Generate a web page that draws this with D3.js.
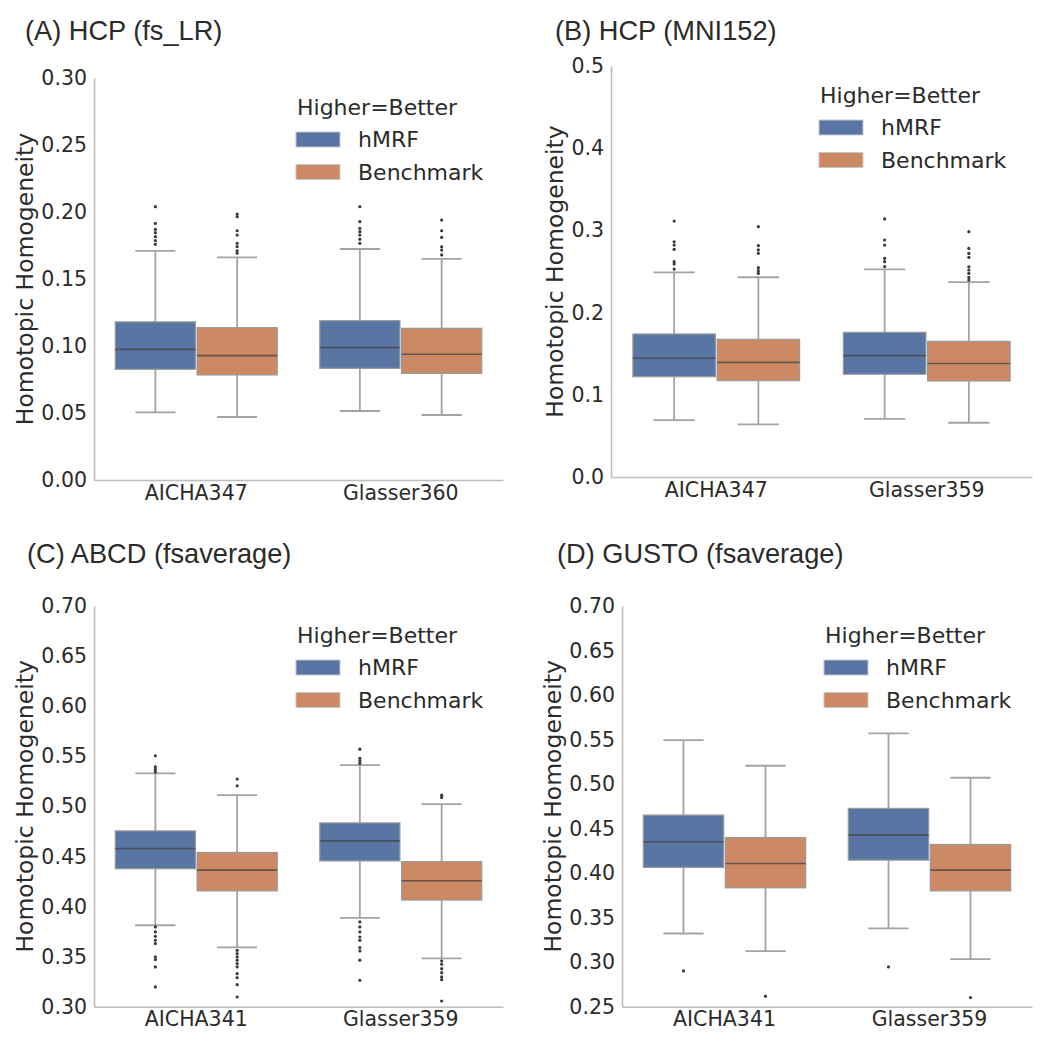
<!DOCTYPE html>
<html><head><meta charset="utf-8">
<script src="https://cdn.jsdelivr.net/npm/d3@7"></script>
<style>body{margin:0;background:#fff} svg{display:block}</style>
</head><body>
<svg id="chart" width="1050" height="1042"></svg>
<script>
// ---------------- DATA ----------------
const panelTitles = ["(A) HCP (fs_LR)", "(B) HCP (MNI152)", "(C) ABCD (fsaverage)", "(D) GUSTO (fsaverage)"];
const seriesNames = ["hMRF", "Benchmark"];
const legendTitle = "Higher=Better";
const yLabel = "Homotopic Homogeneity";

const categoriesA = ["AICHA347", "Glasser360"];
const categoriesB = ["AICHA347", "Glasser359"];
const categoriesC = ["AICHA341", "Glasser359"];
const categoriesD = ["AICHA341", "Glasser359"];

const yDomainA = [0, 0.30];
const yDomainB = [0, 0.5];
const yDomainC = [0.30, 0.70];
const yDomainD = [0.25, 0.70];

const ticksA = [0.00, 0.05, 0.10, 0.15, 0.20, 0.25, 0.30];
const ticksB = [0.0, 0.1, 0.2, 0.3, 0.4, 0.5];
const ticksC = [0.30, 0.35, 0.40, 0.45, 0.50, 0.55, 0.60, 0.65, 0.70];
const ticksD = [0.25, 0.30, 0.35, 0.40, 0.45, 0.50, 0.55, 0.60, 0.65, 0.70];

// box stats per category: [lower whisker, Q1, median, Q3, upper whisker]
const hmrfA  = [[0.0505, 0.0826, 0.0975, 0.1180, 0.1710], [0.0515, 0.0833, 0.0988, 0.1189, 0.1724]];
const benchA = [[0.0470, 0.0784, 0.0928, 0.1137, 0.1662], [0.0485, 0.0796, 0.0938, 0.1132, 0.1650]];
const hmrfB  = [[0.0693, 0.1220, 0.1444, 0.1740, 0.2490], [0.0706, 0.1250, 0.1476, 0.1760, 0.2527]];
const benchB = [[0.0640, 0.1172, 0.1395, 0.1675, 0.2430], [0.0660, 0.1168, 0.1380, 0.1650, 0.2370]];
const hmrfC  = [[0.3813, 0.4377, 0.4579, 0.4755, 0.5329], [0.3886, 0.4455, 0.4655, 0.4835, 0.5412]];
const benchC = [[0.3593, 0.4156, 0.4363, 0.4540, 0.5112], [0.3483, 0.4065, 0.4257, 0.4448, 0.5022]];
const hmrfD  = [[0.3322, 0.4064, 0.4352, 0.4652, 0.5494], [0.3379, 0.4146, 0.4427, 0.4727, 0.5570]];
const benchD = [[0.3124, 0.3835, 0.4109, 0.4400, 0.5206], [0.3034, 0.3801, 0.4034, 0.4322, 0.5071]];

// outliers per category
const hmrfOutA  = [[0.204, 0.1915, 0.187, 0.1846, 0.1816, 0.1786, 0.1759], [0.204, 0.1928, 0.1878, 0.1853, 0.1828, 0.1796, 0.1766]];
const benchOutA = [[0.1985, 0.1965, 0.186, 0.1828, 0.1766, 0.1741, 0.1711, 0.1692], [0.194, 0.186, 0.181, 0.174, 0.1716, 0.168]];
const hmrfOutB  = [[0.3114, 0.2862, 0.2822, 0.277, 0.262, 0.2591, 0.253], [0.3139, 0.2883, 0.2822, 0.266, 0.262, 0.256]];
const benchOutB = [[0.3045, 0.2814, 0.2762, 0.2721, 0.2546, 0.251, 0.2477], [0.2984, 0.2781, 0.272, 0.2671, 0.2557, 0.2518, 0.2477, 0.2428, 0.2396]];
const hmrfOutC  = [[0.5505, 0.5395, 0.5369, 0.5342, 0.3796, 0.3746, 0.3703, 0.3663, 0.363, 0.3497, 0.347, 0.3397, 0.3197],
                   [0.5571, 0.5479, 0.5455, 0.5429, 0.3846, 0.3796, 0.3746, 0.3696, 0.3663, 0.359, 0.3557, 0.3464, 0.3264]];
const benchOutC = [[0.5272, 0.5205, 0.3563, 0.353, 0.3497, 0.3464, 0.343, 0.3397, 0.333, 0.329, 0.322, 0.3097],
                   [0.5112, 0.5089, 0.3457, 0.3424, 0.338, 0.334, 0.3297, 0.327, 0.3057]];
const hmrfOutD  = [[0.2902], [0.2947]];
const benchOutD = [[0.2618], [0.2603]];

// ---------------- LAYOUT / STYLE ----------------
const colors = ["#5875a4", "#cc8963"];
const panels = [
  {title: panelTitles[0], cats: categoriesA, dom: yDomainA, ticks: ticksA, fmt: ".2f", stats: [hmrfA, benchA], outs: [hmrfOutA, benchOutA],
   left: 94, right: 503, top: 78, bottom: 480, titleX: 25, titleY: 40, legDx: -207},
  {title: panelTitles[1], cats: categoriesB, dom: yDomainB, ticks: ticksB, fmt: ".1f", stats: [hmrfB, benchB], outs: [hmrfOutB, benchOutB],
   left: 611, right: 1032, top: 66, bottom: 477, titleX: 555, titleY: 40, legDx: -213},
  {title: panelTitles[2], cats: categoriesC, dom: yDomainC, ticks: ticksC, fmt: ".2f", stats: [hmrfC, benchC], outs: [hmrfOutC, benchOutC],
   left: 94, right: 503, top: 606, bottom: 1006.7, titleX: 27, titleY: 563, legDx: -207},
  {title: panelTitles[3], cats: categoriesD, dom: yDomainD, ticks: ticksD, fmt: ".2f", stats: [hmrfD, benchD], outs: [hmrfOutD, benchOutD],
   left: 622, right: 1032, top: 606, bottom: 1006.7, titleX: 557, titleY: 563, legDx: -208}
];

const svg = d3.select("#chart");
const textColor = "#2b2b2b";
const tickFont = "DejaVu Sans, sans-serif";

panels.forEach(p => {
  const g = svg.append("g");
  const y = d3.scaleLinear().domain(p.dom).range([p.bottom, p.top]);
  const x = d3.scaleBand().domain(p.cats).range([p.left, p.right]).paddingInner(0).paddingOuter(0);
  const hue = d3.scaleBand().domain(seriesNames).range([0, x.bandwidth() * 0.8]);
  const boxW = hue.bandwidth() * 0.98;

  // title
  g.append("text").attr("x", p.titleX).attr("y", p.titleY)
    .attr("font-family", "Liberation Sans, Arial, sans-serif").attr("font-size", 27.2)
    .attr("fill", textColor).text(p.title);

  // y axis
  const yAxis = d3.axisLeft(y).tickValues(p.ticks).tickFormat(d3.format(p.fmt)).tickSize(0).tickPadding(7);
  const ya = g.append("g").attr("transform", `translate(${p.left},0)`).call(yAxis);
  ya.select(".domain").attr("stroke", "#bdbdbd").attr("stroke-width", 1.6);
  ya.selectAll("text").attr("font-family", tickFont).attr("font-size", 20.5).attr("fill", textColor);

  // x axis
  const xAxis = d3.axisBottom(x).tickSize(0).tickPadding(5);
  const xa = g.append("g").attr("transform", `translate(0,${p.bottom})`).call(xAxis);
  xa.select(".domain").attr("stroke", "#bdbdbd").attr("stroke-width", 1.6);
  xa.selectAll("text").attr("font-family", tickFont).attr("font-size", 20.5).attr("fill", textColor);

  // y label
  let maxW = 0;
  ya.selectAll("text").each(function(){ maxW = Math.max(maxW, this.getComputedTextLength()); });
  const lx = p.left - 7 - maxW - 8.5;
  g.append("text").attr("transform", `translate(${lx},${(p.top + p.bottom) / 2}) rotate(-90)`)
    .attr("text-anchor", "middle").attr("font-family", tickFont).attr("font-size", 23.5)
    .attr("fill", textColor).text(yLabel);

  // boxes
  seriesNames.forEach((s, si) => {
    p.cats.forEach((c, ci) => {
      const [lw, q1, med, q3, uw] = p.stats[si][ci];
      const cx = x(c) + x.bandwidth() * 0.1 + hue(s) + hue.bandwidth() / 2;
      const bg = g.append("g");
      // whiskers
      bg.append("line").attr("x1", cx).attr("x2", cx).attr("y1", y(q3)).attr("y2", y(uw))
        .attr("stroke", "#a3a3a3").attr("stroke-width", 1.8);
      bg.append("line").attr("x1", cx).attr("x2", cx).attr("y1", y(q1)).attr("y2", y(lw))
        .attr("stroke", "#a3a3a3").attr("stroke-width", 1.8);
      [lw, uw].forEach(v => {
        bg.append("line").attr("x1", cx - boxW / 4).attr("x2", cx + boxW / 4).attr("y1", y(v)).attr("y2", y(v))
          .attr("stroke", "#a3a3a3").attr("stroke-width", 1.8);
      });
      // box
      bg.append("rect").attr("x", cx - boxW / 2).attr("width", boxW)
        .attr("y", y(q3)).attr("height", y(q1) - y(q3))
        .attr("fill", colors[si]).attr("stroke", "#9a9a9a").attr("stroke-width", 1.2);
      // median
      bg.append("line").attr("x1", cx - boxW / 2).attr("x2", cx + boxW / 2).attr("y1", y(med)).attr("y2", y(med))
        .attr("stroke", "#444").attr("stroke-opacity", 0.75).attr("stroke-width", 1.6);
      // outliers
      bg.selectAll("circle.out").data(p.outs[si][ci]).enter().append("circle")
        .attr("class", "out").attr("cx", cx).attr("cy", d => y(d)).attr("r", 1.6).attr("fill", "#3a3a3a");
    });
  });

  // legend
  const lg = g.append("g").attr("transform", `translate(${p.right + p.legDx},${p.top})`);
  lg.append("text").attr("x", 1).attr("y", 36.5).attr("font-family", tickFont).attr("font-size", 22)
    .attr("fill", textColor).text(legendTitle);
  seriesNames.forEach((s, i) => {
    lg.append("rect").attr("x", 0).attr("y", 54 + i * 32.5).attr("width", 44).attr("height", 15)
      .attr("fill", colors[i]).attr("stroke", "#c8c8c8").attr("stroke-width", 1);
    lg.append("text").attr("x", 62).attr("y", 69 + i * 32.5).attr("font-family", tickFont).attr("font-size", 22)
      .attr("fill", textColor).text(s);
  });
});
</script>
</body></html>
